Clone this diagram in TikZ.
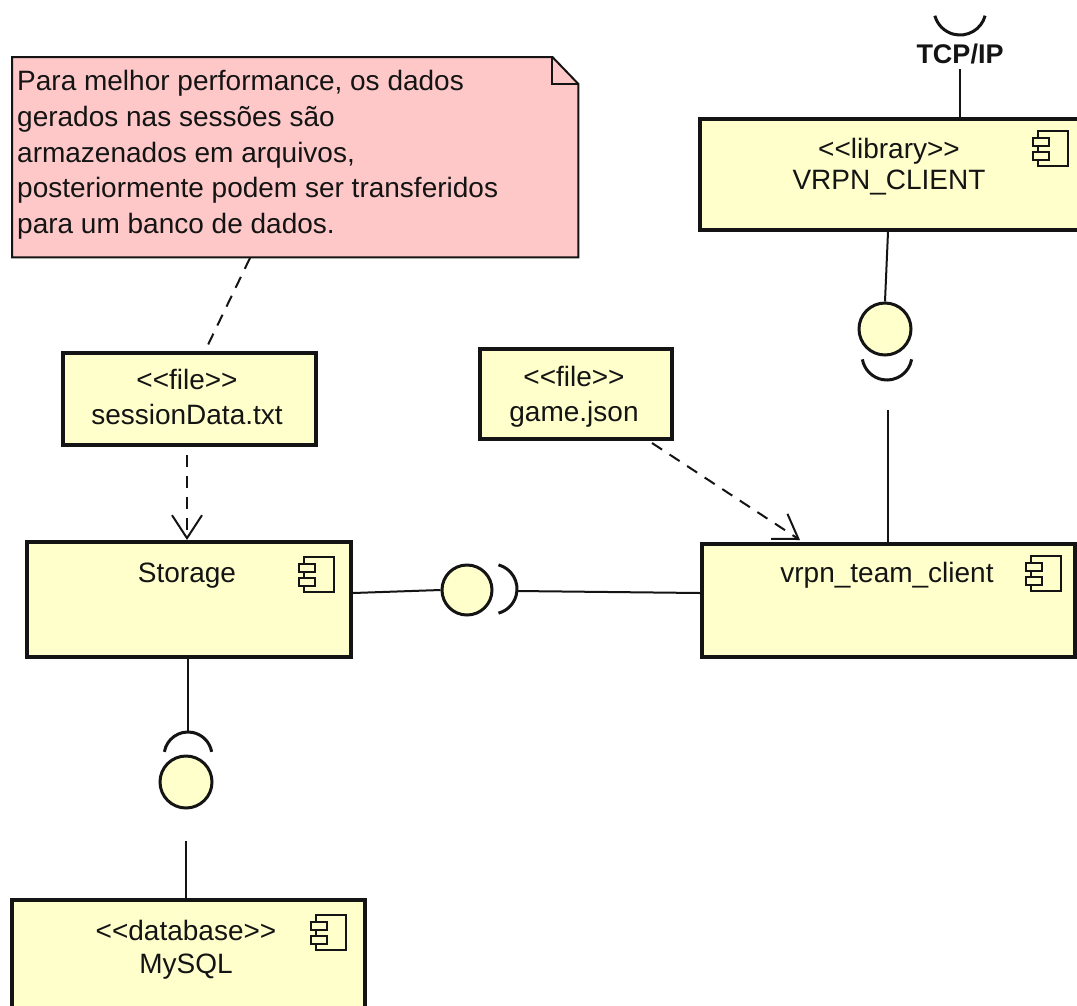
\documentclass[tikz,border=0pt]{standalone}
\usepackage{fontspec}
\setmainfont{Liberation Sans}[Ligatures=TeXOff]
\usetikzlibrary{arrows.meta}
\definecolor{compfill}{RGB}{255,255,204}
\definecolor{notefill}{RGB}{255,200,200}
\definecolor{ink}{RGB}{20,20,20}
\tikzset{
  comp/.style={draw=ink, line width=4, fill=compfill, inner sep=0, anchor=north west},
  filebox/.style={draw=ink, line width=3.5, fill=compfill, inner sep=0, anchor=north west},
  lbl/.style={anchor=base, inner sep=0, font=\fontsize{28}{31}\selectfont, text=ink},
  ball/.style={circle, draw=ink, line width=3, fill=compfill, inner sep=0},
  sock/.style={draw=ink, line width=3},
  wire/.style={draw=ink, line width=2},
  dep/.style={draw=ink, line width=2, dash pattern=on 12pt off 9pt},
  comppic/.pic={
    \draw[ink, line width=1.8, fill=compfill] (-30,0) rectangle (0,35);
    \draw[ink, line width=1.8, fill=compfill] (-35,7) rectangle (-19,15);
    \draw[ink, line width=1.8, fill=compfill] (-35,21) rectangle (-19,29);
  }
}
\begin{document}
\begin{tikzpicture}[x=1pt,y=-1pt]
\useasboundingbox (0,0) rectangle (1077,1005);
\fill[white] (0,0) rectangle (1077,1005);

% note
\node[inner sep=0, minimum width=566, minimum height=200, anchor=north west] (note) at (12,57) {};
\draw[ink, line width=2, fill=notefill] (note.north west) -- ([xshift=-26pt]note.north east) -- ([yshift=-27pt]note.north east) -- (note.south east) -- (note.south west) -- cycle;
\draw[ink, line width=2] ([xshift=-26pt]note.north east) -- ([xshift=-26pt,yshift=-27pt]note.north east) -- ([yshift=-27pt]note.north east);
\node[anchor=north west, inner sep=0, align=left, font=\fontsize{28}{35.8}\selectfont, text=ink] (notetext) at (17,70) {Para melhor performance, os dados\\gerados nas sessões são\\armazenados em arquivos,\\posteriormente podem ser transferidos\\para um banco de dados.};

% components
\node[comp, minimum width=385, minimum height=111] (vrpnc) at (698,117) {};
\pic at (1068,131) {comppic};
\node[lbl] (vrpncst) at (889,158) {<<library>>};
\node[lbl] (vrpncnm) at (889,189) {VRPN\_CLIENT};

\node[comp, minimum width=373, minimum height=113] (team) at (700,542) {};
\pic at (1061,556) {comppic};
\node[lbl] (teamnm) at (887,582) {vrpn\_team\_client};

\node[comp, minimum width=324, minimum height=115] (storage) at (25,540) {};
\pic at (334,557) {comppic};
\node[lbl] (storagenm) at (187,582) {Storage};

\node[comp, minimum width=353, minimum height=130] (mysql) at (10,898) {};
\pic at (346,915) {comppic};
\node[lbl] (mysqlst) at (186,940) {<<database>>};
\node[lbl] (mysqlnm) at (186,973) {MySQL};

% files
\node[filebox, minimum width=253, minimum height=92] (sess) at (61,351) {};
\node[lbl] (sessst) at (187,389) {<<file>>};
\node[lbl] (sessnm) at (187,424) {sessionData.txt};

\node[filebox, minimum width=192, minimum height=90] (game) at (478,347) {};
\node[lbl] (gamest) at (574,386) {<<file>>};
\node[lbl] (gamenm) at (574,421) {game.json};

% TCP/IP required interface
\node[anchor=base, inner sep=0, font=\fontsize{27}{31}\selectfont\bfseries, text=ink] (tcp) at (960,63) {TCP/IP};
\coordinate (tcpsock) at (960,9);
\draw[sock] ([shift={(15:26)}]tcpsock) arc[start angle=15, end angle=165, radius=26];
\draw[wire] (960,69) -- (vrpnc.north -| 960,0);

% VRPN provided -> team required
\node[ball, minimum size=52] (ball1) at (885,329) {};
\draw[wire] (vrpnc.south -| 888,0) -- (ball1.north);
\coordinate (sock1) at (887,355);
\draw[sock] ([shift={(10:25)}]sock1) arc[start angle=10, end angle=170, radius=25];
\coordinate (sock1end) at (888,410);
\draw[wire] (sock1end) -- (team.north -| 888,0);

% storage provided -> team required
\node[ball, minimum size=50] (ball2) at (467,590) {};
\draw[wire] (storage.east |- 0,593) -- (ball2.west);
\coordinate (sock2) at (492,589);
\draw[sock] ([shift={(-75:25)}]sock2) arc[start angle=-75, end angle=75, radius=25];
\coordinate (sock2end) at (517,591);
\draw[wire] (sock2end) -- (team.west |- 0,593);

% mysql provided -> storage required
\node[ball, minimum size=52] (ball3) at (186,782) {};
\coordinate (sock3) at (188,756);
\draw[wire] (storage.south -| 188,0) -- (188,731);
\draw[sock] ([shift={(190:24)}]sock3) arc[start angle=190, end angle=350, radius=24];
\coordinate (sock3end) at (186,841);
\draw[wire] (sock3end) -- (mysql.north -| 186,0);

% dependencies
\coordinate (dep1s) at (187,455);
\draw[dep, -{Straight Barb[length=23pt, width=30pt, line width=2pt]}] (dep1s) -- (storage.north -| 187,0);
\coordinate (dep2s) at (652,443);
\coordinate (dep2e) at (800,540);
\draw[dep, -{Straight Barb[length=23pt, width=30pt, line width=2pt]}] (dep2s) -- (dep2e);

% note anchor
\draw[dep] (250,258) -- (sess.north -| 205,0);
\end{tikzpicture}
\end{document}
